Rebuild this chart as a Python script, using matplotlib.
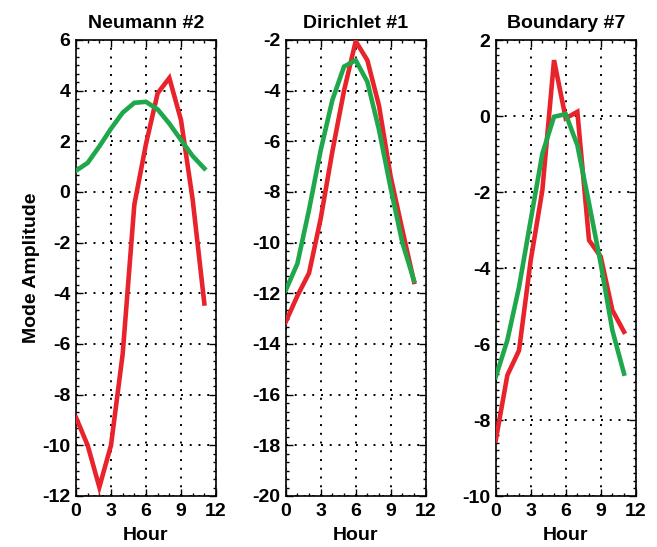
import matplotlib
matplotlib.use("Agg")
import matplotlib.pyplot as plt
from matplotlib.ticker import MultipleLocator

hours = list(range(12))

titles = ["Neumann #2", "Dirichlet #1", "Boundary #7"]

red_neumann = [-8.9, -10.0, -11.65, -10.0, -6.4, -0.5, 1.9, 3.9, 4.5, 2.84, -0.3, -4.4]
green_neumann = [0.84, 1.15, 1.8, 2.5, 3.13, 3.52, 3.56, 3.26, 2.7, 2.05, 1.42, 0.93]

red_dirichlet = [-13.13, -12.1, -11.2, -9.05, -6.4, -4.0, -2.05, -2.8, -4.6, -7.4, -9.5, -11.55]
green_dirichlet = [-11.88, -10.83, -8.7, -6.35, -4.37, -3.05, -2.8, -3.65, -5.55, -7.86, -10.0, -11.5]

red_boundary = [-8.54, -6.82, -6.17, -3.8, -1.95, 1.47, -0.06, 0.11, -3.27, -3.7, -5.11, -5.68]
green_boundary = [-6.87, -5.9, -4.5, -2.74, -0.99, -0.02, 0.05, -0.77, -2.3, -3.88, -5.64, -6.78]

ylims = [(-12, 6), (-20, -2), (-10, 2)]
minor_steps = [1/3, 1/3, 0.2]
xticks = [0, 3, 6, 9, 12]

red_series = [red_neumann, red_dirichlet, red_boundary]
green_series = [green_neumann, green_dirichlet, green_boundary]

RED = "#e8232b"
GREEN = "#1ea84b"

plt.rcParams['font.family'] = ['Liberation Sans', 'DejaVu Sans']
plt.rcParams['font.weight'] = 'bold'
plt.rcParams['axes.unicode_minus'] = False

fig = plt.figure(figsize=(6.57, 5.47), dpi=100)
lefts = [76/657, 285.7/657, 495.7/657]
width = 140/657
bottom = 1 - 496/547
height = (496 - 40)/547

for i in range(3):
    ax = fig.add_axes([lefts[i], bottom, width, height])
    ax.plot(hours, red_series[i], color=RED, lw=3.3, solid_joinstyle='miter', zorder=3)
    ax.plot(hours, green_series[i], color=GREEN, lw=3.3, solid_joinstyle='miter', zorder=3)
    ax.set_xlim(0, 12)
    ax.set_ylim(*ylims[i])
    ax.set_xticks(xticks)
    ax.yaxis.set_major_locator(MultipleLocator(2))
    ax.xaxis.set_minor_locator(MultipleLocator(1))
    ax.yaxis.set_minor_locator(MultipleLocator(minor_steps[i]))
    ax.tick_params(which='both', direction='in', top=True, right=True,
                   labelsize=14, width=1.0, colors='black')
    ax.tick_params(which='major', length=5)
    ax.tick_params(axis='x', which='major', pad=5)
    ax.tick_params(axis='y', which='major', pad=4)
    ax.tick_params(which='minor', length=2.5)
    for lab in ax.get_xticklabels() + ax.get_yticklabels():
        lab.set_fontweight('bold')
    ax.grid(True, which='major', color='black', linestyle=(0, (1, 3.5)), linewidth=1.4)
    for s in ax.spines.values():
        s.set_linewidth(1.2)
    ax.set_title(titles[i], fontsize=14, fontweight='bold', pad=9)
    ax.set_xlabel("Hour", fontsize=14, fontweight='bold', labelpad=5)
    if i == 0:
        ax.set_ylabel("Mode Amplitude", fontsize=14, fontweight='bold', labelpad=2)

fig.savefig("out.png", dpi=100)
